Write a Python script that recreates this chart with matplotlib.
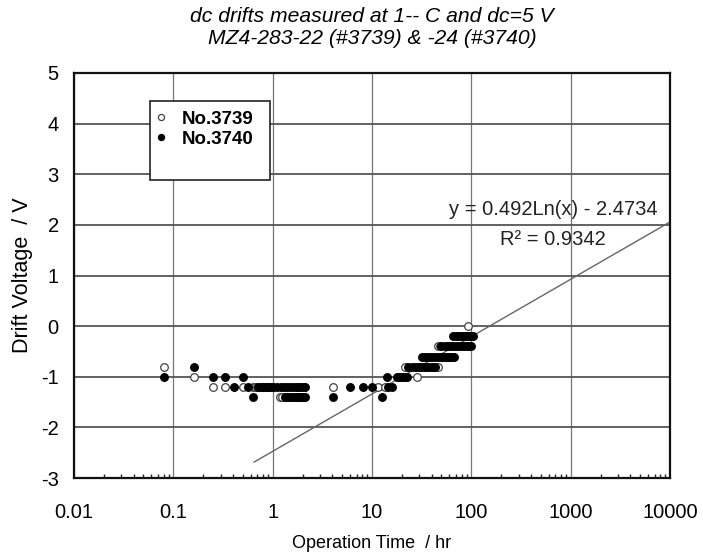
import matplotlib
matplotlib.use('Agg')
import matplotlib.pyplot as plt
import numpy as np
from matplotlib.patches import Rectangle
from matplotlib.ticker import LogLocator, FixedLocator, FixedFormatter, NullFormatter

plt.rcParams['font.family'] = ['Liberation Sans', 'DejaVu Sans']
plt.rcParams['axes.unicode_minus'] = False

# ---- text ----
title_lines = ["dc drifts measured at 1-- C and dc=5 V",
               "MZ4-283-22 (#3739) & -24 (#3740)"]
x_label = "Operation Time  / hr"
y_label = "Drift Voltage  / V"
x_ticks = [0.01, 0.1, 1, 10, 100, 1000, 10000]
x_tick_labels = ["0.01", "0.1", "1", "10", "100", "1000", "10000"]
y_ticks = [-3, -2, -1, 0, 1, 2, 3, 4, 5]
series_names = ["No.3739", "No.3740"]

# ---- data: No.3739 (open circles) ----
no3739_x = [0.081, 0.16, 0.25, 0.33, 0.50, 0.63, 0.66, 0.70, 0.80, 0.90, 1.0,
            1.18, 1.25, 1.35, 1.5, 1.7, 1.9, 4.08, 11.6, 13.6, 28.2,
            21.5, 46.0, 46.0, 48.0, 92.0]
no3739_y = [-0.8, -1.0, -1.2, -1.2, -1.2, -1.2, -1.2, -1.2, -1.2, -1.2, -1.2,
            -1.4, -1.4, -1.4, -1.4, -1.4, -1.4, -1.2, -1.2, -1.2, -1.0,
            -0.8, -0.8, -0.4, -0.4, 0.0]

# ---- data: No.3740 (filled circles) ----
no3740_x = [0.081, 0.16, 0.25, 0.33, 0.41, 0.50, 0.565, 0.64,
            0.72, 0.76, 0.80, 0.85, 0.90, 0.95, 1.0, 1.1, 1.2, 1.3, 1.4, 1.5,
            1.6, 1.7, 1.8, 1.9, 2.0, 2.1,
            1.32, 1.4, 1.5, 1.6, 1.7, 1.8, 1.9, 2.0, 2.1,
            4.08, 6.0, 8.05, 9.93, 12.5, 14.5, 15.9, 14.1,
            17.7, 18.5, 19.5, 20.5, 21.5, 22.3,
            23.0, 25.0, 27.0, 29.0, 31.0, 33.0, 35.0, 37.0, 39.0, 41.0, 43.0,
            32.0, 34.0, 36.0, 38.0, 40.0, 43.0, 46.0, 49.0, 52.0, 55.0, 58.0,
            61.0, 64.0, 67.0,
            50.0, 54.0, 58.0, 62.0, 66.0, 70.0, 75.0, 80.0, 85.0, 90.0, 95.0, 100.0,
            66.0, 70.0, 74.0, 78.0, 82.0, 86.0, 90.0, 95.0, 100.0, 105.0]
no3740_y = [-1.0, -0.8, -1.0, -1.0, -1.2, -1.0, -1.2, -1.4,
            -1.2, -1.2, -1.2, -1.2, -1.2, -1.2, -1.2, -1.2, -1.2, -1.2, -1.2, -1.2,
            -1.2, -1.2, -1.2, -1.2, -1.2, -1.2,
            -1.4, -1.4, -1.4, -1.4, -1.4, -1.4, -1.4, -1.4, -1.4,
            -1.4, -1.2, -1.2, -1.2, -1.4, -1.2, -1.2, -1.0,
            -1.0, -1.0, -1.0, -1.0, -1.0, -1.0,
            -0.8, -0.8, -0.8, -0.8, -0.8, -0.8, -0.8, -0.8, -0.8, -0.8, -0.8,
            -0.6, -0.6, -0.6, -0.6, -0.6, -0.6, -0.6, -0.6, -0.6, -0.6, -0.6,
            -0.6, -0.6, -0.6,
            -0.4, -0.4, -0.4, -0.4, -0.4, -0.4, -0.4, -0.4, -0.4, -0.4, -0.4, -0.4,
            -0.2, -0.2, -0.2, -0.2, -0.2, -0.2, -0.2, -0.2, -0.2, -0.2]

# ---- logarithmic trendline ----
fit_slope = 0.492
fit_intercept = -2.4734
fit_r2 = 0.9342
fit_x_range = [0.65, 10000]

fig = plt.figure(figsize=(7.03, 5.55), dpi=100)
ax = fig.add_axes([74 / 703, 1 - 478 / 555, 596 / 703, 405 / 555])

ax.set_xscale('log')
ax.set_xlim(0.01, 10000)
ax.set_ylim(-3, 5)

ax.xaxis.set_major_locator(FixedLocator(x_ticks))
ax.xaxis.set_major_formatter(FixedFormatter(x_tick_labels))
ax.xaxis.set_minor_locator(LogLocator(base=10, subs=np.arange(2, 10), numticks=20))
ax.xaxis.set_minor_formatter(NullFormatter())
ax.yaxis.set_major_locator(FixedLocator(y_ticks))

ax.xaxis.grid(True, which='major', color='#777777', lw=0.9)
ax.yaxis.grid(True, which='major', color='#555555', lw=1.3)
ax.set_axisbelow(True)

for s in ax.spines.values():
    s.set_color('#111111')
    s.set_linewidth(1.6)

ax.tick_params(axis='x', which='major', length=0, pad=18, labelsize=14.5)
ax.tick_params(axis='x', which='minor', direction='in', length=3, width=1, color='#222222',
               top=False)
ax.tick_params(axis='y', which='major', direction='in', length=0, pad=11, labelsize=14.5)

# trendline
fx = np.logspace(np.log10(fit_x_range[0]), np.log10(fit_x_range[1]), 200)
fy = fit_slope * np.log(fx) + fit_intercept
ax.plot(fx, fy, color='#666666', lw=1.0, zorder=2)

# data
ax.plot(no3739_x, no3739_y, 'o', ms=5.5, mfc='white', mec='#444444', mew=0.9,
        ls='none', zorder=3, label=series_names[0])
ax.plot(no3740_x, no3740_y, 'o', ms=5.5, mfc='black', mec='black', mew=0.9,
        ls='none', zorder=4, label=series_names[1])

# equation text
ax.text(0.98, 0.649, "y = %.3fLn(x) - %.4f" % (fit_slope, -fit_intercept),
        transform=ax.transAxes, ha='right', va='baseline', fontsize=14.5, color='#222222')
ax.text(0.804, 0.588, "R\u00b2 = %.4f" % fit_r2, transform=ax.transAxes,
        ha='center', va='center', fontsize=14.5, color='#222222')

# legend box
box = Rectangle((0.1275, 0.736), 0.2015, 0.195, transform=ax.transAxes,
                facecolor='white', edgecolor='#222222', lw=1.2, zorder=5)
ax.add_patch(box)
leg = ax.legend(loc='upper left', bbox_to_anchor=(0.118, 0.925), frameon=False,
                handlelength=1.0, handletextpad=0.6, labelspacing=0.15,
                markerscale=0.8,
                prop={'weight': 'bold', 'size': 13.5}, borderaxespad=0)
leg.set_zorder(6)

ax.set_xlabel(x_label, fontsize=13, labelpad=9)
ax.set_ylabel(y_label, fontsize=15.5, labelpad=6)

fig.text(372 / 703, 1 - 17 / 555, title_lines[0], ha='center', va='center',
         fontsize=15.2, style='italic')
fig.text(372 / 703, 1 - 38 / 555, title_lines[1], ha='center', va='center',
         fontsize=15.2, style='italic')

fig.savefig('out.png', dpi=100)
